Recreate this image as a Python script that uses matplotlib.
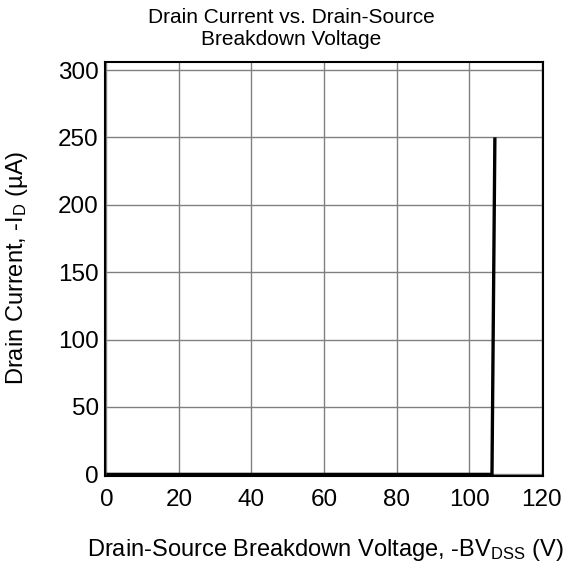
import matplotlib
matplotlib.use("Agg")
import matplotlib.pyplot as plt

plt.rcParams["font.family"] = ["Liberation Sans", "DejaVu Sans"]
plt.rcParams["mathtext.fontset"] = "custom"
plt.rcParams["mathtext.rm"] = "Liberation Sans"
plt.rcParams["mathtext.it"] = "Liberation Sans"

# breakdown curve
bv_volts = [0.0, 106.3, 107.1]
id_microamps = [0.0, 0.0, 250.0]

x_ticks = [0, 20, 40, 60, 80, 100, 120]
y_ticks = [0, 50, 100, 150, 200, 250, 300]

fig = plt.figure(figsize=(5.64, 5.63), dpi=100)
ax = fig.add_axes([0.186, 0.155, 0.777, 0.735])

ax.plot(bv_volts, id_microamps, color="black", lw=2.4, solid_capstyle="butt", zorder=3)

ax.set_xlim(-0.4, 120.4)
ax.set_ylim(-1.0, 306)
ax.set_xticks(x_ticks)
ax.set_yticks(y_ticks)
ax.grid(True, color="#808080", lw=1.0)
ax.tick_params(length=0, labelsize=17.5)
ax.tick_params(axis="x", pad=9.5)
ax.tick_params(axis="y", pad=4.5)
for s in ax.spines.values():
    s.set_linewidth(1.5)

fig.text(0.516, 0.950, "Drain Current vs. Drain-Source\nBreakdown Voltage",
         ha="center", va="center", fontsize=15, linespacing=1.2)
fig.text(0.576, 0.023, r"Drain-Source Breakdown Voltage, -BV$_{\mathrm{DSS}}$ (V)",
         ha="center", va="center", fontsize=17)
fig.text(0.031, 0.524, "Drain Current, -I$_{\\mathrm{D}}$ (µA)",
         ha="center", va="center", rotation=90, fontsize=17)

fig.savefig("out.png", dpi=100)
